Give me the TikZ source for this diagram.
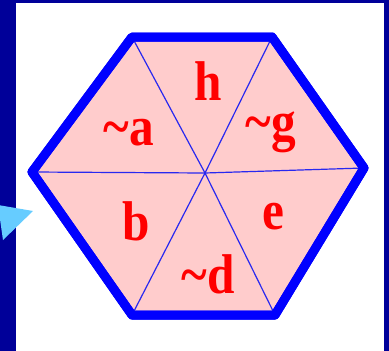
\documentclass[tikz,border=0pt]{standalone}
\usepackage{fontspec}
\usepackage{graphicx}
\setmainfont{Liberation Serif}
\definecolor{navybg}{RGB}{0,0,153}
\definecolor{hexblue}{RGB}{0,0,255}
\definecolor{thinblue}{RGB}{40,40,240}
\definecolor{hexpink}{RGB}{255,204,204}
\definecolor{lbl}{RGB}{255,0,0}
\definecolor{pointer}{RGB}{102,204,255}
\newcommand{\lbltxt}[1]{\scalebox{0.88}[1]{#1}}
\tikzset{
  border/.style={draw=hexblue, line width=9pt, fill=hexpink, line join=round},
  spoke/.style={draw=thinblue, line width=1.2pt},
  lab/.style={text=lbl, font=\fontsize{56}{56}\selectfont\bfseries, anchor=base, inner sep=0pt}
}
\begin{document}
\begin{tikzpicture}[x=1pt,y=-1pt]
\useasboundingbox (0,0) rectangle (389,351);
\fill[navybg] (0,0) rectangle (389,351);
\fill[white] (16,3) rectangle (384,351);
% hexagon vertices
\coordinate (tl) at (132,37);
\coordinate (tr) at (272,37);
\coordinate (r) at (364,168);
\coordinate (br) at (275,315);
\coordinate (bl) at (132,315);
\coordinate (l) at (32,172);
\coordinate (c) at (205,173);
\draw[border] (tl) -- (tr) -- (r) -- (br) -- (bl) -- (l) -- cycle;
\draw[spoke] (tl) -- (c) -- (br);
\draw[spoke] (tr) -- (c) -- (bl);
\draw[spoke] (l) -- (c) -- (r);
% redraw border over spoke ends
\draw[draw=hexblue, line width=9pt, line join=round] (tl) -- (tr) -- (r) -- (br) -- (bl) -- (l) -- cycle;
% labels
\node[lab] (h) at (208,100) {\lbltxt{h}};
\node[lab] (na) at (129,145) {\lbltxt{\textasciitilde a}};
\node[lab] (ng) at (271,140) {\lbltxt{\textasciitilde g}};
\node[lab] (b) at (136,240) {\lbltxt{b}};
\node[lab] (e) at (273,229) {\lbltxt{e}};
\node[lab] (nd) at (208,293) {\lbltxt{\textasciitilde d}};
% pointer arrowhead
\fill[pointer] (-2,205) -- (33,211) -- (3,240) -- cycle;
\end{tikzpicture}
\end{document}
